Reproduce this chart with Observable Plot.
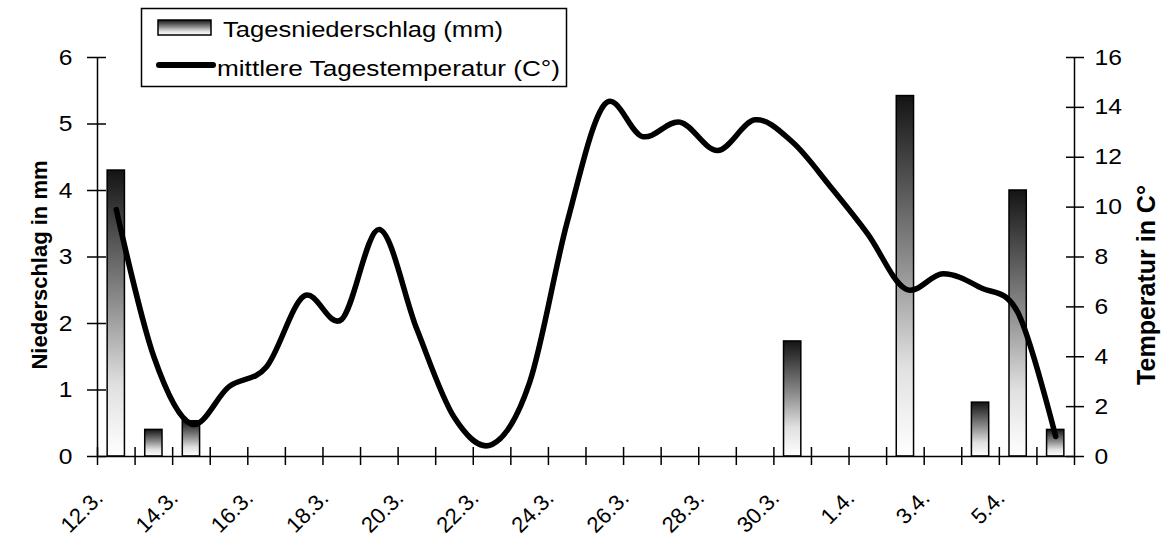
<!DOCTYPE html>
<html>
<head>
<meta charset="utf-8">
<script src="https://cdn.jsdelivr.net/npm/d3@7"></script>
<script src="https://cdn.jsdelivr.net/npm/@observablehq/plot@0.6"></script>
<style>
  html, body { margin: 0; padding: 0; background: #fff; }
  #chart svg { display: block; }
</style>
</head>
<body>
<div id="chart"></div>
<script>
// ---- data ----
const dates = ["12.3.","13.3.","14.3.","15.3.","16.3.","17.3.","18.3.","19.3.","20.3.","21.3.",
               "22.3.","23.3.","24.3.","25.3.","26.3.","27.3.","28.3.","29.3.","30.3.","31.3.",
               "1.4.","2.4.","3.4.","4.4.","5.4.","6.4."];
const precipitation = [4.3, 0.4, 0.53, 0, 0, 0, 0, 0, 0, 0,
                       0, 0, 0, 0, 0, 0, 0, 0, 1.73, 0,
                       0, 5.42, 0, 0.81, 4.0, 0.4];
const temperature = [9.9, 4.0, 1.3, 2.8, 3.6, 6.44, 5.5, 9.1, 5.1, 1.55,
                     0.48, 2.97, 9.4, 14.13, 12.83, 13.41, 12.27, 13.5, 12.6, 10.83,
                     8.92, 6.72, 7.33, 6.77, 5.75, 0.8];
const mmTicks = [0, 1, 2, 3, 4, 5, 6];
const tempTicks = [0, 2, 4, 6, 8, 10, 12, 14, 16];
const dateLabels = dates.filter((d, i) => i % 2 === 0);
const seriesNames = ["Tagesniederschlag (mm)", "mittlere Tagestemperatur (C°)"];
const leftTitle = "Niederschlag in mm";
const rightTitle = "Temperatur in C°";

// ---- layout ----
const W = 1167, H = 538, mL = 97, mR = 93, mT = 57, mB = 82;
const MM_MAX = 6, T_MAX = 16;
const t2mm = t => t * MM_MAX / T_MAX;
const step = (W - mL - mR) / dates.length;
const font = "'Liberation Sans', Arial, sans-serif";
const firstDate = dates[0], lastDate = dates[dates.length - 1];

const rows = dates.map((date, i) => ({date, mm: precipitation[i], t: temperature[i]}));

const chart = Plot.plot({
  width: W, height: H,
  marginLeft: mL, marginRight: mR, marginTop: mT, marginBottom: mB,
  style: {fontFamily: font, fontSize: "22px", color: "#000", background: "#fff", overflow: "visible"},
  x: {type: "band", domain: dates, paddingInner: 0.54, paddingOuter: 0.27, round: false, axis: null},
  y: {domain: [0, MM_MAX], axis: null},
  marks: [
    Plot.barY(rows.filter(d => d.mm > 0), {x: "date", y: "mm", fill: "url(#barGrad)", stroke: "#000", strokeWidth: 1.5}),
    Plot.line(rows, {x: "date", y: d => t2mm(d.t), curve: "cardinal", stroke: "#000", strokeWidth: 5.5,
                     strokeLinejoin: "round", strokeLinecap: "round"}),
    // axis lines (left, right, bottom)
    Plot.ruleX([firstDate], {dx: -step / 2, stroke: "#000", strokeWidth: 1.5}),
    Plot.ruleX([lastDate], {dx: step / 2, stroke: "#000", strokeWidth: 1.5}),
    Plot.ruleY([0], {stroke: "#000", strokeWidth: 1.5}),
    // left axis
    Plot.axisY({anchor: "left", ticks: mmTicks, tickFormat: d => String(d), tickSize: 10, tickPadding: 15,
                label: null, fontSize: 22, strokeWidth: 1.5}),
    Plot.axisY({anchor: "left", ticks: mmTicks, tickSize: 9, dx: 9, tickFormat: () => "", label: null, strokeWidth: 1.5}),
    // right axis
    Plot.axisY({anchor: "right", ticks: tempTicks.map(t2mm), tickFormat: d => String(Math.round(d * T_MAX / MM_MAX)),
                tickSize: 9, tickPadding: 11, label: null, fontSize: 22, strokeWidth: 1.5}),
    Plot.axisY({anchor: "right", ticks: tempTicks.map(t2mm), tickSize: 9, dx: -9, tickFormat: () => "", label: null, strokeWidth: 1.5}),
    // bottom axis ticks at category boundaries
    Plot.axisX({ticks: dates, tickFormat: () => "", tickSize: 9, dx: -step / 2, label: null, strokeWidth: 1.5}),
    Plot.axisX({ticks: dates, tickFormat: () => "", tickSize: 9, dy: -9, dx: -step / 2, label: null, strokeWidth: 1.5}),
    Plot.axisX({ticks: [lastDate], tickFormat: () => "", tickSize: 9, dx: step / 2, label: null, strokeWidth: 1.5}),
    Plot.axisX({ticks: dateLabels, tickSize: 0, tickPadding: 38, tickRotate: -45, textAnchor: "end",
                lineAnchor: "middle", dx: -17, label: null, fontSize: 22}),
    // axis titles
    Plot.text([leftTitle], {frameAnchor: "left", textAnchor: "middle", lineAnchor: "middle",
                            dx: -58, dy: 8, rotate: -90, fontWeight: "bold", fontSize: 22}),
    Plot.text([rightTitle], {frameAnchor: "right", textAnchor: "middle", lineAnchor: "middle", ariaLabel: "right-title",
                             dx: 72, dy: 28, rotate: -90, fontWeight: "bold", fontSize: 25})
  ]
});

document.getElementById("chart").appendChild(chart);

const svg = d3.select(chart);

// slight horizontal widening of the value labels, as in the reference
svg.selectAll('g[aria-label="y-axis tick label"] text').each(function () {
  const len = this.getComputedTextLength();
  if (len > 0) {
    this.setAttribute("textLength", (len * 1.12).toFixed(1));
    this.setAttribute("lengthAdjust", "spacingAndGlyphs");
  }
});
// the right axis title is drawn a little longer in the reference
svg.selectAll('g[aria-label="right-title"] text')
  .attr("textLength", 232).attr("lengthAdjust", "spacingAndGlyphs");

// gradient for bars
const defs = svg.insert("defs", ":first-child");
const grad = defs.append("linearGradient").attr("id", "barGrad")
  .attr("x1", 0).attr("y1", 0).attr("x2", 0).attr("y2", 1);
[[0, "#141414"], [0.45, "#8a8a8a"], [0.75, "#e0e0e0"], [1, "#ffffff"]].forEach(([o, c]) =>
  grad.append("stop").attr("offset", o).attr("stop-color", c));

// legend
const lg = svg.append("g").attr("font-family", font).attr("font-size", 22).attr("text-anchor", "start");
lg.append("rect").attr("x", 141.5).attr("y", 8.5).attr("width", 425).attr("height", 78)
  .attr("fill", "#fff").attr("stroke", "#000").attr("stroke-width", 1.5);
lg.append("rect").attr("x", 158).attr("y", 20).attr("width", 53).attr("height", 15)
  .attr("fill", "url(#barGrad)").attr("stroke", "#000").attr("stroke-width", 1.5);
lg.append("text").attr("x", 223).attr("y", 37).attr("textLength", 280).attr("lengthAdjust", "spacingAndGlyphs")
  .text(seriesNames[0]);
lg.append("line").attr("x1", 159).attr("x2", 213).attr("y1", 65).attr("y2", 65)
  .attr("stroke", "#000").attr("stroke-width", 6).attr("stroke-linecap", "round");
lg.append("text").attr("x", 217).attr("y", 76).attr("textLength", 343).attr("lengthAdjust", "spacingAndGlyphs")
  .text(seriesNames[1]);
</script>
</body>
</html>
